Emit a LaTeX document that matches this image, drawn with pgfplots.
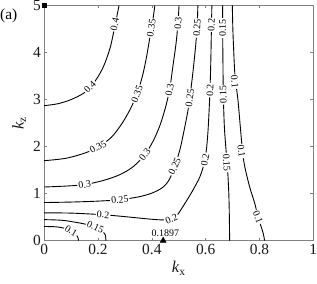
\documentclass[border=0pt]{standalone}
\usepackage{fontspec}
\setmainfont{Liberation Serif}
\usepackage{pgfplots}
\pgfplotsset{compat=1.18}
\usetikzlibrary{calc}
\tikzset{lab/.style={fill=white, inner sep=1bp, font=\fontsize{10}{11}\selectfont}}
\begin{document}
\begin{tikzpicture}
\begin{axis}[
 scale only axis, width=269.5bp, height=235.5bp,
 xmin=0, xmax=1, ymin=0, ymax=5,
 xtick={0,0.2,0.4,0.6,0.8,1}, xticklabels={0,0.2,0.4,0.6,0.8,1},
 ytick={0,1,2,3,4,5}, yticklabels={0,1,2,3,4,5},
 tick align=inside, major tick length=3bp,
 axis line style={black!50, line width=0.5bp},
 tick style={black!50, line width=0.5bp},
 ticklabel style={font=\fontsize{15.5}{18}\selectfont, text=black!90},
 /pgf/number format/assume math mode=true,
 xlabel={\textit{k}\textsubscript{x}},
 ylabel={\textit{k}\textsubscript{z}},
 label style={font=\fontsize{16.5}{19}\selectfont, text=black!90},
 clip=false,
]
% 0.4
\addplot[black, line width=0.9bp, smooth] coordinates {(0,2.87)(0.05,2.91)(0.1,3.0)(0.15,3.15)(0.19,3.4)(0.22,3.7)(0.245,4.1)(0.262,4.55)(0.278,5.0)};
% 0.35
\addplot[black, line width=0.9bp, smooth] coordinates {(0,1.70)(0.08,1.75)(0.15,1.86)(0.2,1.99)(0.25,2.2)(0.29,2.5)(0.32,2.8)(0.345,3.12)(0.365,3.5)(0.38,3.9)(0.395,4.4)(0.404,4.7)(0.411,5.0)};
% 0.3
\addplot[black, line width=0.9bp, smooth] coordinates {(0,1.14)(0.08,1.16)(0.15,1.19)(0.22,1.28)(0.28,1.40)(0.33,1.57)(0.374,1.83)(0.405,2.12)(0.43,2.45)(0.45,2.82)(0.466,3.21)(0.478,3.7)(0.49,4.2)(0.497,4.62)(0.501,5.0)};
% 0.25
\addplot[black, line width=0.9bp, smooth] coordinates {(0,0.81)(0.1,0.82)(0.2,0.84)(0.281,0.87)(0.35,0.93)(0.40,1.01)(0.44,1.13)(0.465,1.30)(0.485,1.58)(0.505,1.95)(0.52,2.35)(0.532,2.7)(0.541,3.03)(0.553,3.6)(0.562,4.1)(0.568,4.52)(0.571,5.0)};
% 0.2
\addplot[black, line width=0.9bp, smooth] coordinates {(0,0.59)(0.1,0.585)(0.219,0.55)(0.3,0.51)(0.37,0.47)(0.42,0.445)(0.45,0.44)(0.473,0.46)(0.495,0.55)(0.515,0.72)(0.54,0.95)(0.56,1.15)(0.578,1.35)(0.59,1.55)(0.598,1.75)(0.604,2.0)(0.609,2.36)(0.613,2.8)(0.616,3.2)(0.619,3.8)(0.621,4.4)(0.623,5.0)};
% 0.15 left
\addplot[black, line width=0.9bp, smooth] coordinates {(0,0.446)(0.07,0.43)(0.145,0.36)(0.19,0.29)(0.215,0.2)(0.227,0.12)(0.229,0)};
% 0.1 left
\addplot[black, line width=0.9bp, smooth] coordinates {(0,0.30)(0.04,0.295)(0.07,0.27)(0.1,0.21)(0.118,0.13)(0.126,0.05)(0.127,0)};
% 0.15 right
\addplot[black, line width=0.9bp, smooth] coordinates {(0.663,5)(0.663,4.5)(0.664,3.9)(0.665,3.3)(0.667,2.8)(0.67,2.36)(0.676,1.9)(0.682,1.45)(0.686,1.0)(0.688,0.5)(0.689,0)};
% 0.1 right
\addplot[black, line width=0.9bp, smooth] coordinates {(0.699,5)(0.701,4.5)(0.704,4.06)(0.709,3.5)(0.72,2.99)(0.729,2.4)(0.737,1.9)(0.745,1.58)(0.763,1.15)(0.782,0.8)(0.794,0.52)(0.806,0.3)(0.814,0.15)(0.819,0)};
% markers
\addplot[only marks, mark=square*, mark size=2.2bp, black] coordinates {(0,5)};
\addplot[only marks, mark=triangle*, mark size=3.5bp, black] coordinates {(0.442,0)};
% labels
\node[lab, rotate=45] at (axis cs:0.17,3.27) {0.4};
\node[lab, rotate=78] at (axis cs:0.262,4.6) {0.4};
\node[lab, rotate=70] at (axis cs:0.345,3.12) {0.35};
\node[lab, rotate=81] at (axis cs:0.398,4.52) {0.35};
\node[lab, rotate=28] at (axis cs:0.2,1.99) {0.35};
\node[lab, rotate=8] at (axis cs:0.15,1.19) {0.3};
\node[lab, rotate=52] at (axis cs:0.374,1.83) {0.3};
\node[lab, rotate=80] at (axis cs:0.466,3.21) {0.3};
\node[lab, rotate=86] at (axis cs:0.497,4.62) {0.3};
\node[lab, rotate=6] at (axis cs:0.281,0.87) {0.25};
\node[lab, rotate=65] at (axis cs:0.485,1.58) {0.25};
\node[lab, rotate=82] at (axis cs:0.541,3.03) {0.25};
\node[lab, rotate=86] at (axis cs:0.568,4.52) {0.25};
\node[lab, rotate=-4] at (axis cs:0.219,0.55) {0.2};
\node[lab, rotate=23] at (axis cs:0.473,0.46) {0.2};
\node[lab, rotate=80] at (axis cs:0.598,1.72) {0.2};
\node[lab, rotate=88] at (axis cs:0.616,3.2) {0.2};
\node[lab, rotate=88] at (axis cs:0.621,4.59) {0.2};
\node[lab, rotate=-25] at (axis cs:0.19,0.29) {0.15};
\node[lab, rotate=-86] at (axis cs:0.678,1.66) {0.15};
\node[lab, rotate=92] at (axis cs:0.665,3.1) {0.15};
\node[lab, rotate=90] at (axis cs:0.663,4.52) {0.15};
\node[lab, rotate=-85] at (axis cs:0.708,3.38) {0.1};
\node[lab, rotate=-82] at (axis cs:0.733,1.9) {0.1};
\node[lab, rotate=-68] at (axis cs:0.794,0.5) {0.1};
\node[lab, rotate=-32] at (axis cs:0.10,0.21) {0.1};
\node[font=\fontsize{10}{11}\selectfont, inner sep=0.5bp] at (axis cs:0.45,0.163) {0.1897};
\end{axis}
\node[anchor=west, inner sep=0pt, font=\fontsize{15.5}{18}\selectfont] at ($(current axis.north west)+(-44.3bp,-10.5bp)$) {(a)};
\pgfresetboundingbox
\useasboundingbox ($(current axis.south west)+(-44.3bp,-43bp)$) rectangle ($(current axis.north east)+(3.7bp,5.5bp)$);
\end{tikzpicture}
\end{document}
